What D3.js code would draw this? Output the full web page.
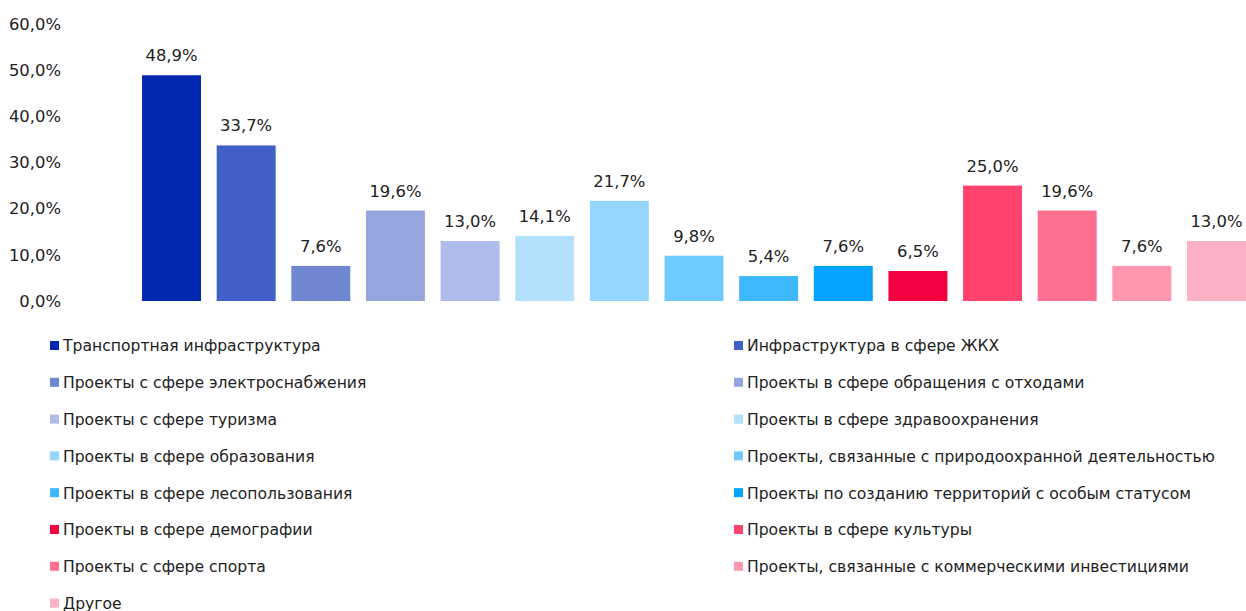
<!doctype html>
<html lang="ru">
<head>
  <meta charset="UTF-8">
  <script src="https://cdn.jsdelivr.net/npm/d3@7/dist/d3.min.js"></script>
  <title>Chart</title>
  <style>
    body { margin: 0; background: #fff; }
    svg text { font-family: "DejaVu Sans", Verdana, sans-serif; fill: #222; }
  </style>
</head>
<body>
  <div class="chart"></div>
  <script>
    const categories = [
      'Транспортная инфраструктура',
      'Инфраструктура в сфере ЖКХ',
      'Проекты с сфере электроснабжения',
      'Проекты в сфере обращения с отходами',
      'Проекты с сфере туризма',
      'Проекты в сфере здравоохранения',
      'Проекты в сфере образования',
      'Проекты, связанные с природоохранной деятельностью',
      'Проекты в сфере лесопользования',
      'Проекты по созданию территорий с особым статусом',
      'Проекты в сфере демографии',
      'Проекты в сфере культуры',
      'Проекты с сфере спорта',
      'Проекты, связанные с коммерческими инвестициями',
      'Другое'
    ];
    const values = [48.9, 33.7, 7.6, 19.6, 13.0, 14.1, 21.7, 9.8, 5.4, 7.6, 6.5, 25.0, 19.6, 7.6, 13.0];
    const colors = ['#0228b2', '#4060c8', '#6f86d0', '#96a5de', '#aebbeb', '#b3e0fd', '#94d6fd',
                    '#6fcbfd', '#3db8fd', '#04a3fd', '#f40041', '#ff426e', '#ff7090', '#ff97af', '#fcb1c4'];
    const yTicks = [0, 10, 20, 30, 40, 50, 60];

    const W = 1246, H = 611;
    const svg = d3.select('.chart').append('svg').attr('width', W).attr('height', H);

    const fmt = v => d3.format('.1f')(v).replace('.', ',') + '%';

    const x = d3.scaleBand().domain(categories).range([134.2, 1253.8]).paddingInner(0.21).paddingOuter(0.105);
    const y = d3.scaleLinear().domain([0, 60]).range([301, 24]);

    // y axis labels only, no lines
    const yAxis = d3.axisLeft(y).tickValues(yTicks).tickFormat(fmt).tickSize(0).tickPadding(0);
    const ga = svg.append('g').attr('transform', 'translate(61,0)').call(yAxis);
    ga.select('.domain').remove();
    ga.selectAll('text').style('font-size', '16.4px').style('font-family', '"DejaVu Sans", Verdana, sans-serif').attr('fill', '#222');

    svg.selectAll('rect.bar').data(values).enter().append('rect').attr('class', 'bar')
      .attr('x', (d, i) => x(categories[i]))
      .attr('y', d => y(d))
      .attr('width', x.bandwidth())
      .attr('height', d => y(0) - y(d))
      .attr('fill', (d, i) => colors[i]);

    svg.selectAll('text.lbl').data(values).enter().append('text').attr('class', 'lbl')
      .attr('x', (d, i) => x(categories[i]) + x.bandwidth() / 2)
      .attr('y', d => y(d) - 14)
      .attr('text-anchor', 'middle')
      .style('font-size', '16.4px')
      .text(fmt);

    // legend, two columns
    const leg = svg.append('g');
    const items = leg.selectAll('g').data(categories).enter().append('g')
      .attr('transform', (d, i) => `translate(${i % 2 ? 734 : 50},${346 + Math.floor(i / 2) * 36.8})`);
    items.append('rect').attr('x', 0).attr('y', -5).attr('width', 9).attr('height', 9)
      .attr('fill', (d, i) => colors[i]);
    items.append('text').attr('x', 13).attr('y', 0).attr('dy', '0.35em')
      .style('font-size', '15.6px').text(d => d);
  </script>
</body>
</html>
